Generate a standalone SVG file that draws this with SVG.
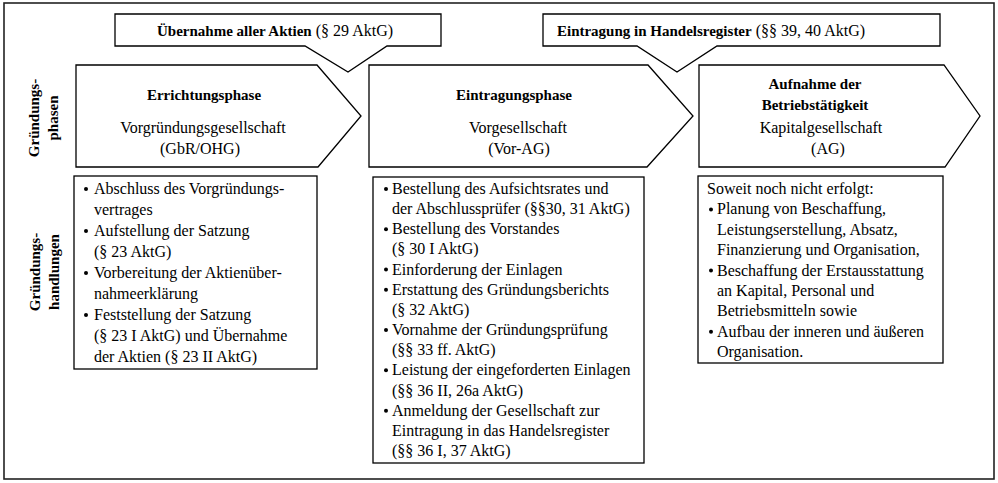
<svg xmlns="http://www.w3.org/2000/svg" width="998" height="483" viewBox="0 0 998 483">
<style>
.sh{fill:#fff;stroke:#000;stroke-width:1.3;stroke-linejoin:miter}
.t{font-family:"Liberation Serif","Times New Roman",serif;font-size:16px;fill:#000}
.b{font-weight:bold;font-size:15px}
.m{text-anchor:middle}
.bl{fill:#000}
</style>
<rect x="0" y="0" width="998" height="483" fill="#fff"/>
<rect id="frame" x="4" y="3" width="990" height="476" fill="none" stroke="#222" stroke-width="1.6"/>

<g id="labels">
<text class="t b m" transform="translate(39,118) rotate(-90)">Gründungs-</text>
<text class="t b m" transform="translate(58,118) rotate(-90)">phasen</text>
<text class="t b m" transform="translate(40,272) rotate(-90)">Gründungs-</text>
<text class="t b m" transform="translate(59,272) rotate(-90)">handlungen</text>
</g>

<g id="callout1">
<path class="sh" d="M115,14 H441 V46 H387 L348,72 L305,46 H115 Z"/>
<text class="t m" x="275" y="36"><tspan class="b">Übernahme aller Aktien</tspan> (§ 29 AktG)</text>
</g>
<g id="callout2">
<path class="sh" d="M543,14 H940 V46 H717 L677,72 L637,46 H543 Z"/>
<text class="t m" x="711" y="36"><tspan class="b">Eintragung in Handelsregister</tspan> (§§ 39, 40 AktG)</text>
</g>

<g id="phase1">
<path class="sh" d="M76,65 H317 L361,116 L318,167 H76 Z"/>
<text class="t b m" x="204" y="100">Errichtungsphase</text>
<text class="t m" x="203" y="133">Vorgründungsgesellschaft</text>
<text class="t m" x="200" y="154">(GbR/OHG)</text>
</g>
<g id="phase2">
<path class="sh" d="M369,65 H648 L693,116 L647,167 H369 Z"/>
<text class="t b m" x="514" y="100">Eintragungsphase</text>
<text class="t m" x="518" y="133">Vorgesellschaft</text>
<text class="t m" x="519" y="154">(Vor-AG)</text>
</g>
<g id="phase3">
<path class="sh" d="M699,65 H944 L980,116 L945,167 H699 Z"/>
<text class="t b m" x="815" y="89">Aufnahme der</text>
<text class="t b m" x="815" y="110">Betriebstätigkeit</text>
<text class="t m" x="821" y="133">Kapitalgesellschaft</text>
<text class="t m" x="828" y="154">(AG)</text>
</g>

<g id="box1">
<rect class="sh" x="74" y="176" width="243" height="193"/>
<g class="bl">
<circle cx="86" cy="189" r="2"/><circle cx="86" cy="231" r="2"/><circle cx="86" cy="273" r="2"/><circle cx="86" cy="315" r="2"/>
</g>
<text class="t">
<tspan x="94" y="194">Abschluss des Vorgründungs-</tspan>
<tspan x="94" y="215">vertrages</tspan>
<tspan x="94" y="236">Aufstellung der Satzung</tspan>
<tspan x="94" y="257">(§ 23 AktG)</tspan>
<tspan x="94" y="278">Vorbereitung der Aktienüber-</tspan>
<tspan x="94" y="299">nahmeerklärung</tspan>
<tspan x="94" y="320">Feststellung der Satzung</tspan>
<tspan x="94" y="341">(§ 23 I AktG) und Übernahme</tspan>
<tspan x="94" y="362">der Aktien (§ 23 II AktG)</tspan>
</text>
</g>

<g id="box2">
<rect class="sh" x="373" y="177" width="271" height="286"/>
<g class="bl">
<circle cx="386" cy="189" r="2"/><circle cx="386" cy="229.3" r="2"/><circle cx="386" cy="269.6" r="2"/><circle cx="386" cy="289.75" r="2"/><circle cx="386" cy="330.05" r="2"/><circle cx="386" cy="370.35" r="2"/><circle cx="386" cy="410.65" r="2"/>
</g>
<text class="t">
<tspan x="392" y="194">Bestellung des Aufsichtsrates und</tspan>
<tspan x="392" y="214.15">der Abschlussprüfer (§§30, 31 AktG)</tspan>
<tspan x="392" y="234.3">Bestellung des Vorstandes</tspan>
<tspan x="392" y="254.45">(§ 30 I AktG)</tspan>
<tspan x="392" y="274.6">Einforderung der Einlagen</tspan>
<tspan x="392" y="294.75">Erstattung des Gründungsberichts</tspan>
<tspan x="392" y="314.9">(§ 32 AktG)</tspan>
<tspan x="392" y="335.05">Vornahme der Gründungsprüfung</tspan>
<tspan x="392" y="355.2">(§§ 33 ff. AktG)</tspan>
<tspan x="392" y="375.35">Leistung der eingeforderten Einlagen</tspan>
<tspan x="392" y="395.5">(§§ 36 II, 26a AktG)</tspan>
<tspan x="392" y="415.65">Anmeldung der Gesellschaft zur</tspan>
<tspan x="392" y="435.8">Eintragung in das Handelsregister</tspan>
<tspan x="392" y="455.95">(§§ 36 I, 37 AktG)</tspan>
</text>
</g>

<g id="box3">
<rect class="sh" x="698" y="176" width="245" height="187"/>
<g class="bl">
<circle cx="711" cy="209.4" r="2"/><circle cx="711" cy="270.6" r="2"/><circle cx="711" cy="331.8" r="2"/>
</g>
<text class="t">
<tspan x="707" y="194">Soweit noch nicht erfolgt:</tspan>
<tspan x="717" y="214.4">Planung von Beschaffung,</tspan>
<tspan x="717" y="234.8">Leistungserstellung, Absatz,</tspan>
<tspan x="717" y="255.2">Finanzierung und Organisation,</tspan>
<tspan x="717" y="275.6">Beschaffung der Erstausstattung</tspan>
<tspan x="717" y="296">an Kapital, Personal und</tspan>
<tspan x="717" y="316.4">Betriebsmitteln sowie</tspan>
<tspan x="717" y="336.8">Aufbau der inneren und äußeren</tspan>
<tspan x="717" y="357.2">Organisation.</tspan>
</text>
</g>
<g id="connectors"/>
</svg>
